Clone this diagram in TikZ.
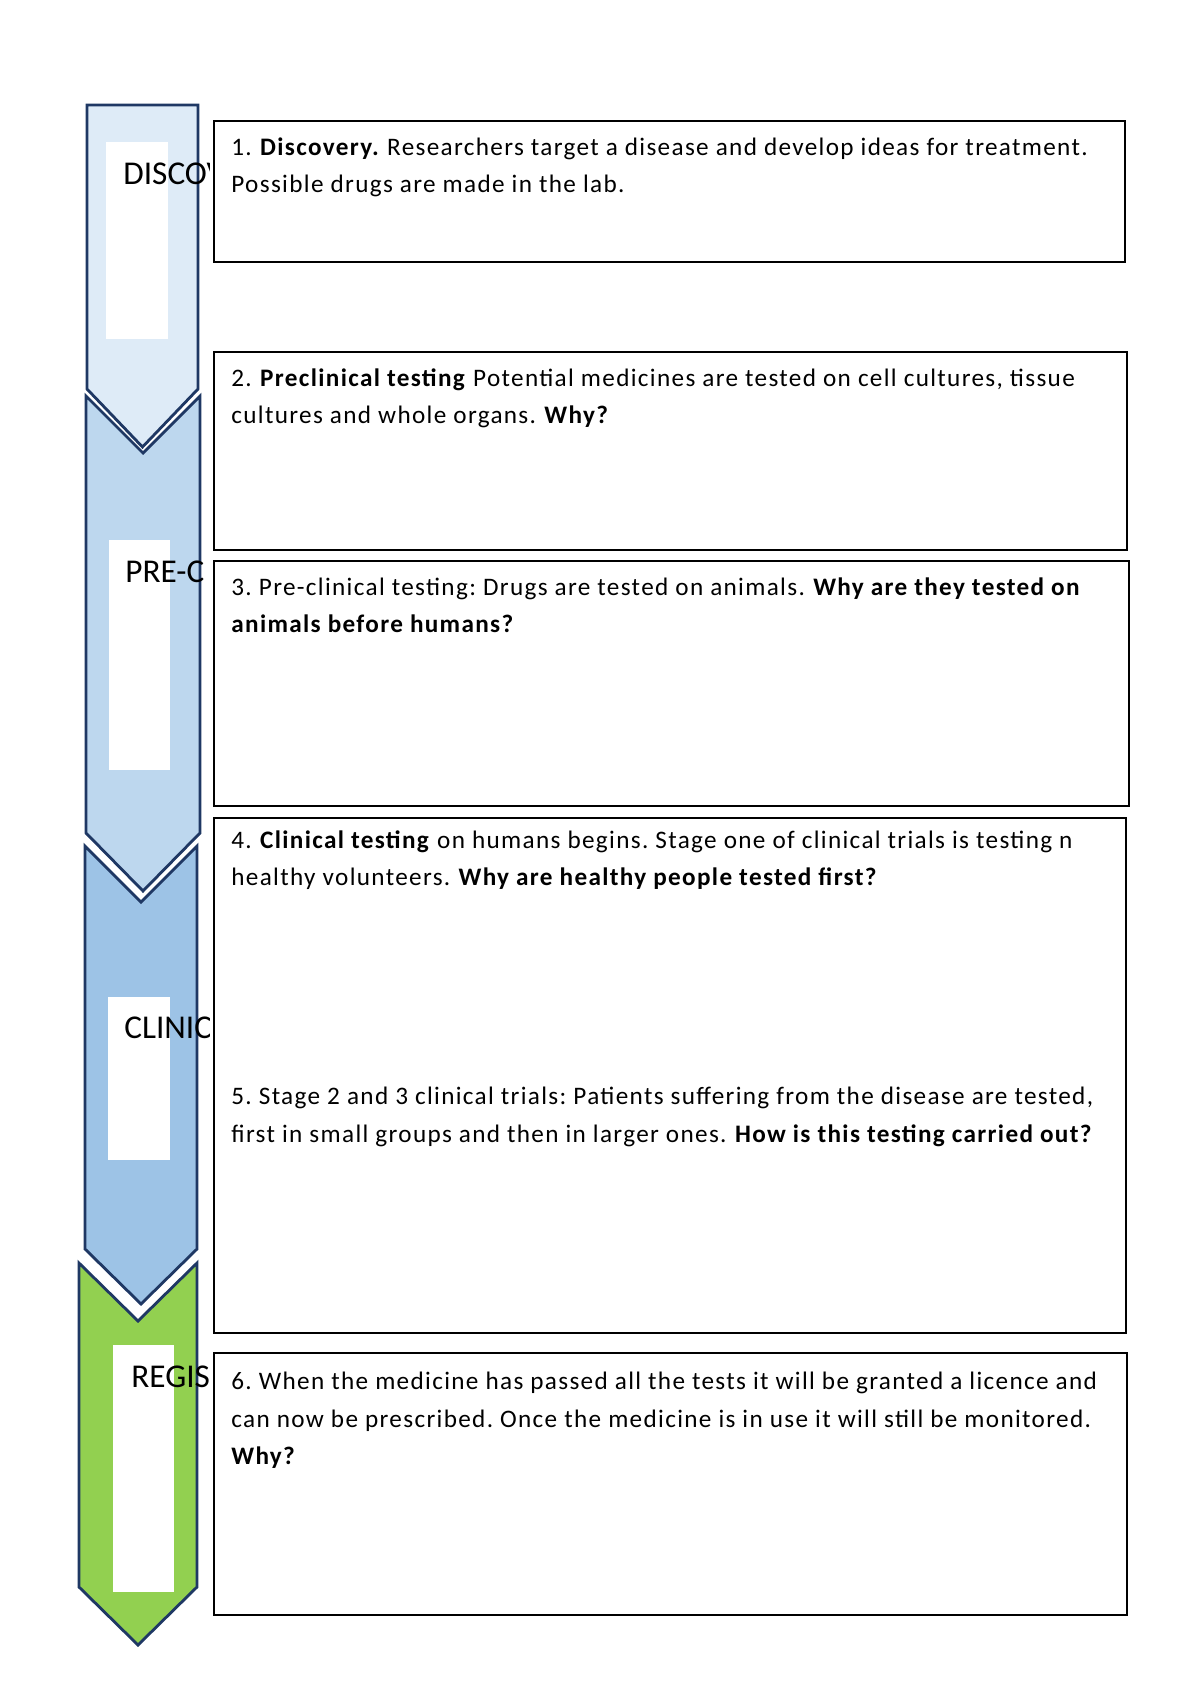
\documentclass[tikz,border=0pt]{standalone}
\usepackage{fontspec}
\setmainfont{Carlito}
\newfontfamily\bodyfont[LetterSpace=5.3]{Carlito}
\usepackage{xcolor}
\usepackage{tikz}
\usetikzlibrary{positioning}
\definecolor{navy}{HTML}{1F3864}
\definecolor{discfill}{HTML}{DEEBF7}
\definecolor{prefill}{HTML}{BDD7EE}
\definecolor{clinfill}{HTML}{9DC3E6}
\definecolor{regfill}{HTML}{92D050}
\tikzset{
  chev/.style={draw=navy, line width=1.4pt, line join=miter},
  slot/.style={fill=white, draw=none},
  card/.style={draw=black, line width=1.3pt},
  lab/.style={font=\fontsize{16.5}{20}\selectfont, anchor=base west, inner sep=0pt},
  txt/.style={font=\bodyfont\fontsize{12.5}{18.4}\selectfont, align=left, anchor=north west, inner sep=0pt},
}
\frenchspacing
\begin{document}
\begin{tikzpicture}[x=0.4961pt, y=-0.4961pt]
\useasboundingbox (0,0) rectangle (1200,1696);
% stage chevrons
\draw[chev, fill=discfill] (87,105) -- (198,105) -- (198,389) -- (142.5,447) -- (87,389) -- cycle;
\draw[chev, fill=prefill] (86,396) -- (143,453) -- (200,396) -- (200,833) -- (143,891) -- (86,833) -- cycle;
\draw[chev, fill=clinfill] (85,846) -- (141,902) -- (197,846) -- (197,1249) -- (141,1304) -- (85,1249) -- cycle;
\draw[chev, fill=regfill] (79,1263) -- (138,1321) -- (197,1263) -- (197,1587) -- (138,1645) -- (79,1587) -- cycle;
\fill[slot] (106,142) rectangle (168,339);
\fill[slot] (109,540) rectangle (170,770);
\fill[slot] (108,997) rectangle (170,1160);
\fill[slot] (113,1345) rectangle (174,1592);
\begin{scope}
\clip (0,0) rectangle (209,1696);
\node[lab] (disc) at (123,185) {DISCOV};
\node[lab] (pre) at (125,582) {PRE-C};
\node[lab] (clin) at (124,1038) {CLINIC};
\node[lab] (reg) at (131,1387) {REGIS};
\end{scope}
% question boxes
\draw[card] (214,121) rectangle (1125,262);
\draw[card] (214,352) rectangle (1127,550);
\draw[card] (214,561) rectangle (1129,806);
\draw[card] (214,818) rectangle (1126,1333);
\draw[card] (214,1353) rectangle (1127,1615);
\node[txt] (step1) at (231,137) {1. \textbf{Discovery.} Researchers target a disease and develop ideas for treatment.\\
Possible drugs are made in the lab.};
\node[txt] (step2) at (231,368) {2. \textbf{Preclinical testing} Potential medicines are tested on cell cultures, tissue\\
cultures and whole organs. \textbf{Why?}};
\node[txt] (step3) at (231,577) {3. Pre-clinical testing: Drugs are tested on animals. \textbf{Why are they tested on}\\
\textbf{animals before humans?}};
\node[txt] (step4) at (231,830) {4. \textbf{Clinical testing} on humans begins. Stage one of clinical trials is testing n\\
healthy volunteers. \textbf{Why are healthy people tested first?}};
\node[txt] (step5) at (231,1087) {5. Stage 2 and 3 clinical trials: Patients suffering from the disease are tested,\\
first in small groups and then in larger ones. \textbf{How is this testing carried out?}};
\node[txt] (step6) at (231,1372) {6. When the medicine has passed all the tests it will be granted a licence and\\
can now be prescribed. Once the medicine is in use it will still be monitored.\\
\textbf{Why?}};
\end{tikzpicture}
\end{document}
